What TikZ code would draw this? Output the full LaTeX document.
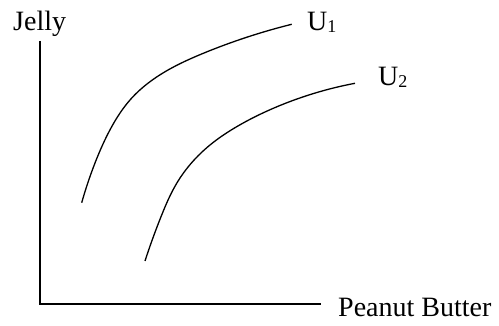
\documentclass[tikz,border=0pt]{standalone}
\usepackage{fontspec}
\setmainfont{Liberation Serif}
\usetikzlibrary{hobby}
\newcommand{\sbs}[1]{\raisebox{-2pt}{\fontsize{18}{18}\selectfont #1}}
\begin{document}
\begin{tikzpicture}[x=1pt,y=1pt,
  axisline/.style={line width=1.7pt},
  curveline/.style={line width=1.3pt, use Hobby shortcut},
  lbl/.style={inner sep=0pt, anchor=base west, font=\fontsize{28}{30}\selectfont}]
\useasboundingbox (0,0) rectangle (499,326);
\coordinate (ytop) at (40,285);
\coordinate (origin) at (40,22);
\coordinate (xend) at (321,22);
\draw[axisline] (ytop) -- (origin) -- (xend);
\node[lbl] (jelly) at (13,295) {Jelly};
\node[lbl] (pb) at (338,9) {Peanut Butter};
\node[lbl] (u1) at (307,295) {U\sbs{1}};
\node[lbl] (u2) at (378,240) {U\sbs{2}};
\draw[curveline] (81.7,123.3) .. (95,163) .. (111.7,199.3) .. (130,226) .. (150,244.3) .. (203.3,272.7) .. (291.7,301.7);
\draw[curveline] (145,65) .. (161.7,111) .. (176.7,142.7) .. (210,181) .. (236.7,199.3) .. (273.3,217.7) .. (355,242.7);
\end{tikzpicture}
\end{document}
